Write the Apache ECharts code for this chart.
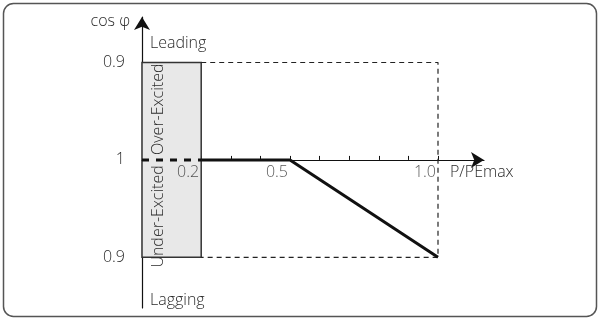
<!DOCTYPE html>
<html><head><meta charset="utf-8">
<script src="https://cdn.jsdelivr.net/npm/echarts@6/dist/echarts.min.js"></script>
<style>html,body{margin:0;padding:0;background:#fff}#c{width:600px;height:320px}</style>
</head><body><div id="c"></div>
<script>
// X: P/PEmax ; Y: deviation from cos φ = 1 (positive = leading, negative = lagging)
var xTickValues = [0.1,0.2,0.3,0.4,0.5,0.6,0.7,0.8,0.9,1.0];
var xLabelValues = [0.2, 0.5, 1.0];
var yLabelValues = [0.1, 0, -0.1];
var yLabelTexts = ['0.9', '1', '0.9'];
var curveDashed = [[0,0],[0.2,0]];
var curveSolid = [[0.2,0],[0.5,0],[1.0,-0.1]];
var boundBox = [[0.2,0.1],[1.0,0.1],[1.0,-0.1],[0.2,-0.1]];
var band = [[0,0.1],[0.2,-0.1]];

var FONT = 'Open Sans';
var FW = 300;
var FS = 16;
var TC = '#2a2a2a';
var chart = echarts.init(document.getElementById('c'));
var option = {
  animation:false,
  grid:{left:142, top:17, width:342, height:291, outerBoundsMode:'none', containLabel:false},
  xAxis:{type:'value', min:0, max:1.1554, splitLine:{show:false},
    axisLine:{onZero:true, lineStyle:{color:'#111', width:1.2}, symbol:['none','arrow'], symbolSize:[12,13]},
    axisTick:{show:true, inside:true, length:4, customValues:xTickValues, lineStyle:{color:'#111'}},
    axisLabel:{show:false}
  },
  yAxis:{type:'value', min:-0.152, max:0.1467, splitLine:{show:false},
    axisLine:{onZero:true, lineStyle:{color:'#111', width:1.2}, symbol:['none','arrow'], symbolSize:[12,13]},
    axisTick:{show:false},
    axisLabel:{customValues:yLabelValues, margin:17, fontFamily:FONT, fontWeight:FW, fontSize:FS, color:TC,
      formatter:function(v){var i=yLabelValues.findIndex(function(x){return Math.abs(x-v)<1e-6;}); return i>=0?yLabelTexts[i]:'';}}
  },
  series:[
    {type:'line', data:[], silent:true,
      markArea:{silent:true, itemStyle:{color:'#e8e8e8', borderColor:'#333', borderWidth:1.5},
        data:[[{coord:band[0]},{coord:band[1]}]]}},
    {type:'line', data:boundBox, symbol:'none', silent:true, z:1,
      lineStyle:{color:'#222', width:1.2, type:[5,4]}},
    {type:'line', data:curveDashed, symbol:'none', silent:true, z:3,
      lineStyle:{color:'#111', width:3, type:[7,7]}},
    {type:'line', data:curveSolid, symbol:'none', silent:true, z:3,
      lineStyle:{color:'#111', width:3}},
    {type:'scatter', data:xLabelValues.map(function(v){return [v,0];}), symbolSize:0, silent:true, z:5,
      label:{show:true, position:[-2,5], align:'right', verticalAlign:'top', fontFamily:FONT, fontWeight:FW, fontSize:FS, color:TC,
        formatter:function(p){return p.value[0].toFixed(1);}}}
  ]
};
chart.setOption(option);

function px(p){return chart.convertToPixel({gridIndex:0}, p);}
var pOver = px([0.055, 0.052]);
var pUnder = px([0.055, -0.058]);
function T(x,y,txt,extra){var o={type:'text', x:x, y:y, z:10, style:{text:txt, fontFamily:FONT, fontWeight:FW, fontSize:FS, fill:TC, verticalAlign:'middle'}}; if(extra){for(var k in extra){if(k==='style'){for(var s in extra.style)o.style[s]=extra.style[s];}else o[k]=extra[k];}} return o;}
chart.setOption({graphic:[
  {type:'rect', shape:{x:3.5, y:3.5, width:593, height:313, r:10}, style:{fill:'none', stroke:'#555', lineWidth:1.5}, z:-10},
  T(130,21,'cos φ',{style:{align:'right'}}),
  T(150,43,'Leading'),
  T(150,300,'Lagging'),
  T(450,172,'P/PEmax'),
  T(pOver[0],pOver[1],'Over-Excited',{rotation:Math.PI/2, style:{align:'center'}}),
  T(pUnder[0],pUnder[1],'Under-Excited',{rotation:Math.PI/2, style:{align:'center'}})
]});
</script></body></html>
